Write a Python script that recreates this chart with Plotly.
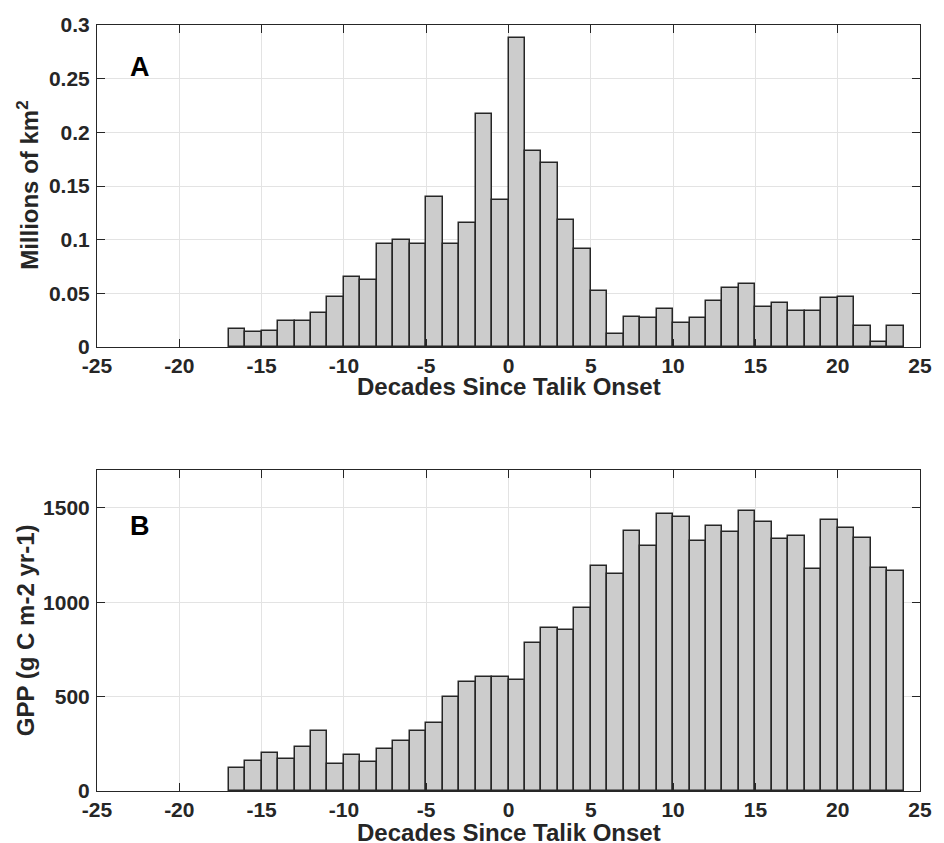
import plotly.graph_objects as go

# ---- data ----
bin_left = list(range(-17, 24))  # decade bins, width 1
area = [0.017, 0.014, 0.015, 0.024, 0.024, 0.032, 0.047, 0.065, 0.062, 0.096,
        0.100, 0.096, 0.140, 0.096, 0.116, 0.217, 0.137, 0.288, 0.183, 0.171,
        0.118, 0.091, 0.052, 0.012, 0.028, 0.027, 0.035, 0.022, 0.027, 0.043,
        0.055, 0.059, 0.037, 0.041, 0.034, 0.034, 0.046, 0.047, 0.020, 0.005,
        0.020]
gpp = [124, 159, 202, 170, 232, 319, 145, 191, 156, 220,
       262, 317, 360, 499, 579, 602, 602, 586, 783, 864,
       855, 969, 1192, 1151, 1376, 1296, 1465, 1449, 1325, 1404,
       1372, 1484, 1422, 1335, 1350, 1178, 1436, 1392, 1342, 1183,
       1165]
x_ticks = [-25, -20, -15, -10, -5, 0, 5, 10, 15, 20, 25]
ya_ticks = [0, 0.05, 0.1, 0.15, 0.2, 0.25, 0.3]
ya_labels = ["0", "0.05", "0.1", "0.15", "0.2", "0.25", "0.3"]
yb_ticks = [0, 500, 1000, 1500]

centers = [b + 0.5 for b in bin_left]

FONT = "Liberation Sans"
AX = "#262626"
GRID = "#e3e3e3"
FILL = "#cccccc"
TICK_SIZE = 21
TITLE_SIZE = 24

fig = go.Figure()
bar_style = dict(width=1, marker=dict(color=FILL, line=dict(color=AX, width=1.5)),
                 showlegend=False, hoverinfo="x+y")
fig.add_trace(go.Bar(x=centers, y=area, xaxis="x", yaxis="y", **bar_style))
fig.add_trace(go.Bar(x=centers, y=gpp, xaxis="x2", yaxis="y2", **bar_style))

common_x = dict(range=[-25, 25], tickvals=x_ticks, ticktext=[str(t) for t in x_ticks],
                showgrid=True, gridcolor=GRID, gridwidth=1, zeroline=False,
                showline=True, linecolor=AX, linewidth=1, mirror="ticks",
                ticks="inside", ticklen=8, tickcolor=AX, tickwidth=1,
                tickfont=dict(family=FONT, size=TICK_SIZE, color=AX, weight="bold"),
                ticklabelstandoff=0)
common_y = dict(showgrid=True, gridcolor=GRID, gridwidth=1, zeroline=False,
                showline=True, linecolor=AX, linewidth=1, mirror="ticks",
                ticks="inside", ticklen=8, tickcolor=AX, tickwidth=1,
                tickfont=dict(family=FONT, size=TICK_SIZE, color=AX, weight="bold"),
                ticklabelstandoff=2)

fig.update_layout(
    width=944, height=843,
    margin=dict(l=97, r=14, t=25, b=52),
    paper_bgcolor="white", plot_bgcolor="white",
    font=dict(family=FONT, color=AX),
    bargap=0,
    xaxis=dict(domain=[0, 1], anchor="y", **common_x),
    yaxis=dict(domain=[0.5796, 1], anchor="x", range=[0, 0.3], tickvals=ya_ticks,
               ticktext=ya_labels, **common_y),
    xaxis2=dict(domain=[0, 1], anchor="y2", **common_x),
    yaxis2=dict(domain=[0, 0.419], anchor="x2", range=[0, 1700], tickvals=yb_ticks,
                ticktext=[str(t) for t in yb_ticks], **common_y),
)

ann_font = dict(family=FONT, size=TITLE_SIZE, color=AX, weight="bold")
annotations = [
    dict(text="Millions of km<sup>2</sup>", xref="paper", yref="paper", x=0, xshift=-69,
         y=0.790, textangle=-90, showarrow=False, xanchor="center", yanchor="middle",
         font=ann_font),
    dict(text="GPP (g C m-2 yr-1)", xref="paper", yref="paper", x=0, xshift=-72,
         y=0.210, textangle=-90, showarrow=False, xanchor="center", yanchor="middle",
         font=ann_font),
    dict(text="Decades Since Talik Onset", xref="paper", yref="paper", x=0.5, y=0.5275,
         showarrow=False, xanchor="center", yanchor="middle", font=ann_font),
    dict(text="Decades Since Talik Onset", xref="paper", yref="paper", x=0.5, y=-0.0545,
         showarrow=False, xanchor="center", yanchor="middle", font=ann_font),
    dict(text="A", xref="x", yref="y", x=-22.4, y=0.261, showarrow=False,
         font=dict(family=FONT, size=27, color="black", weight="bold")),
    dict(text="B", xref="x2", yref="y2", x=-22.4, y=1403, showarrow=False,
         font=dict(family=FONT, size=27, color="black", weight="bold")),
]
fig.update_layout(annotations=annotations)

fig.write_html("out.html",
               config={"displayModeBar": False},
               post_script="document.body.style.margin='0px';"
                           "document.body.style.overflow='hidden';")
